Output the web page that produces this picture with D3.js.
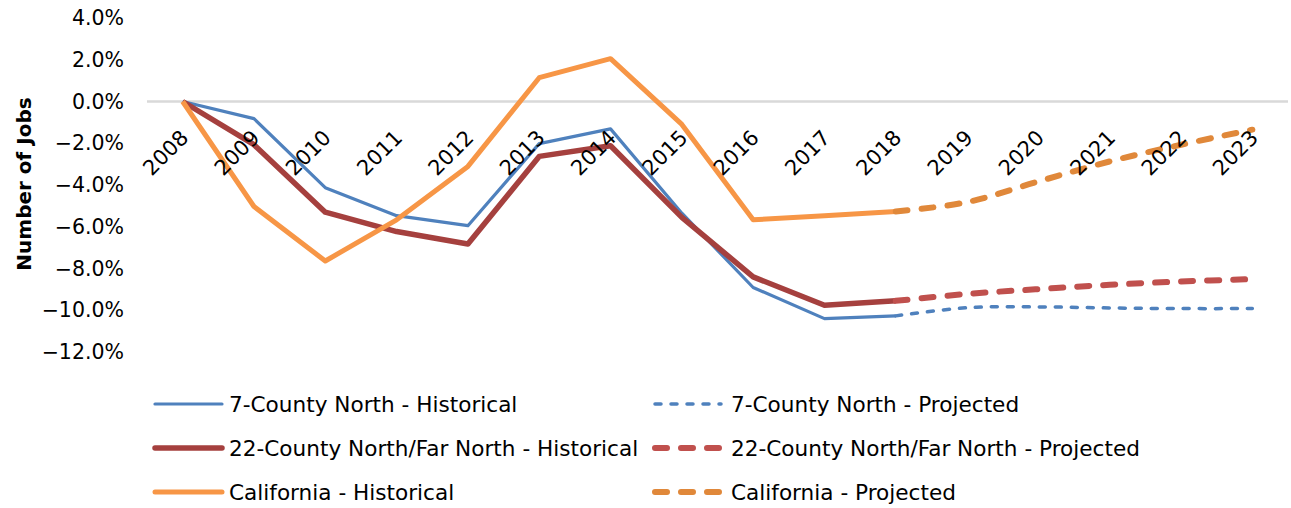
<!DOCTYPE html>
<html>
<head>
<meta charset="utf-8">
<script src="https://cdn.jsdelivr.net/npm/d3@7"></script>
<style>
  body { margin: 0; background: #fff; }
  text { font-family: "DejaVu Sans", sans-serif; fill: #000; }
</style>
</head>
<body>
<div id="chart"></div>
<script>
const width = 1291
const height = 508
const margin = {top: 18, bottom: 156, left: 147, right: 3}

const years = ["2008","2009","2010","2011","2012","2013","2014","2015","2016","2017","2018","2019","2020","2021","2022","2023"]
const histYears = years.slice(0, 11)
const projYears = years.slice(10)

// percent change in jobs since 2008
const northHist   = [0, -0.82, -4.13, -5.47, -5.95, -2.02, -1.31, -5.35, -8.91, -10.40, -10.27]
const northProj   = [-10.27, -9.88, -9.84, -9.89, -9.92, -9.92]
const farNorthHist = [0, -2.07, -5.30, -6.23, -6.83, -2.63, -2.12, -5.55, -8.40, -9.76, -9.55]
const farNorthProj = [-9.55, -9.22, -8.99, -8.78, -8.62, -8.51]
const caHist      = [0, -5.03, -7.64, -5.67, -3.11, 1.14, 2.05, -1.10, -5.67, -5.47, -5.27]
const caProj      = [-5.27, -4.82, -3.83, -2.87, -2.07, -1.35]

const yTicks = [4, 2, 0, -2, -4, -6, -8, -10, -12]

const series = [
  {name: "7-County North - Historical", yrs: histYears, vals: northHist, color: "#4F81BD", w: 3.2, dash: null, curve: d3.curveLinear},
  {name: "7-County North - Projected", yrs: projYears, vals: northProj, color: "#4F81BD", w: 3.5, dash: "6 10", curve: d3.curveCatmullRom},
  {name: "22-County North/Far North - Historical", yrs: histYears, vals: farNorthHist, color: "#A5403E", w: 5.5, dash: null, curve: d3.curveLinear},
  {name: "22-County North/Far North - Projected", yrs: projYears, vals: farNorthProj, color: "#C0504D", w: 6, dash: "12 14", curve: d3.curveCatmullRom},
  {name: "California - Historical", yrs: histYears, vals: caHist, color: "#F79646", w: 5, dash: null, curve: d3.curveLinear},
  {name: "California - Projected", yrs: projYears, vals: caProj, color: "#E0883A", w: 6, dash: "12 14", curve: d3.curveCatmullRom}
]

const svg = d3.select("#chart").append("svg").attr("width", width).attr("height", height)

const x = d3.scalePoint().domain(years).range([margin.left, width - margin.right]).padding(0.5)
const y = d3.scaleLinear().domain([-12, 4]).range([352, margin.top])

// zero line
svg.append("line")
  .attr("x1", margin.left).attr("x2", width - margin.right)
  .attr("y1", y(0)).attr("y2", y(0))
  .attr("stroke", "#D9D9D9").attr("stroke-width", 2.5)

// y labels
const yAxis = d3.axisLeft(y).tickValues(yTicks).tickSize(0).tickPadding(0)
  .tickFormat(d => d3.format(".1f")(d) + "%")
const yAxisGroup = svg.append("g").attr("transform", `translate(124, 0)`).call(yAxis)
yAxisGroup.select(".domain").remove()
yAxisGroup.selectAll("text").attr("font-size", 20.5).attr("font-family", "DejaVu Sans").attr("fill", "#000")

svg.append("text")
  .attr("transform", `translate(31, 184) rotate(-90)`)
  .attr("text-anchor", "middle")
  .attr("font-size", 20).attr("font-weight", "bold")
  .text("Number of Jobs")

// lines
const lineGroup = svg.append("g")
series.forEach(s => {
  const line = d3.line().x((d, i) => x(s.yrs[i])).y(d => y(d)).curve(s.curve)
  lineGroup.append("path")
    .attr("d", line(s.vals))
    .attr("fill", "none")
    .attr("stroke", s.color)
    .attr("stroke-width", s.w)
    .attr("stroke-linejoin", "round")
    .attr("stroke-linecap", s.dash ? "round" : "butt")
    .attr("stroke-dasharray", s.dash)
})

// x labels
svg.append("g").selectAll("text").data(years).join("text")
  .attr("transform", d => `translate(${x(d) + 7}, 139) rotate(-45)`)
  .attr("text-anchor", "end")
  .attr("font-size", 21)
  .text(d => d)

// legend
const legendRows = [404, 448, 492]
const legendCols = [{x1: 155, x2: 222, tx: 229}, {x1: 655, x2: 721, tx: 731}]
series.forEach((s, i) => {
  const col = legendCols[i % 2]
  const ry = legendRows[Math.floor(i / 2)]
  svg.append("line")
    .attr("x1", col.x1).attr("x2", col.x2).attr("y1", ry).attr("y2", ry)
    .attr("stroke", s.color).attr("stroke-width", s.w)
    .attr("stroke-linecap", "round")
    .attr("stroke-dasharray", s.dash)
  svg.append("text")
    .attr("x", col.tx).attr("y", ry).attr("dy", "0.35em")
    .attr("font-size", 21.6)
    .text(s.name)
})
</script>
</body>
</html>
